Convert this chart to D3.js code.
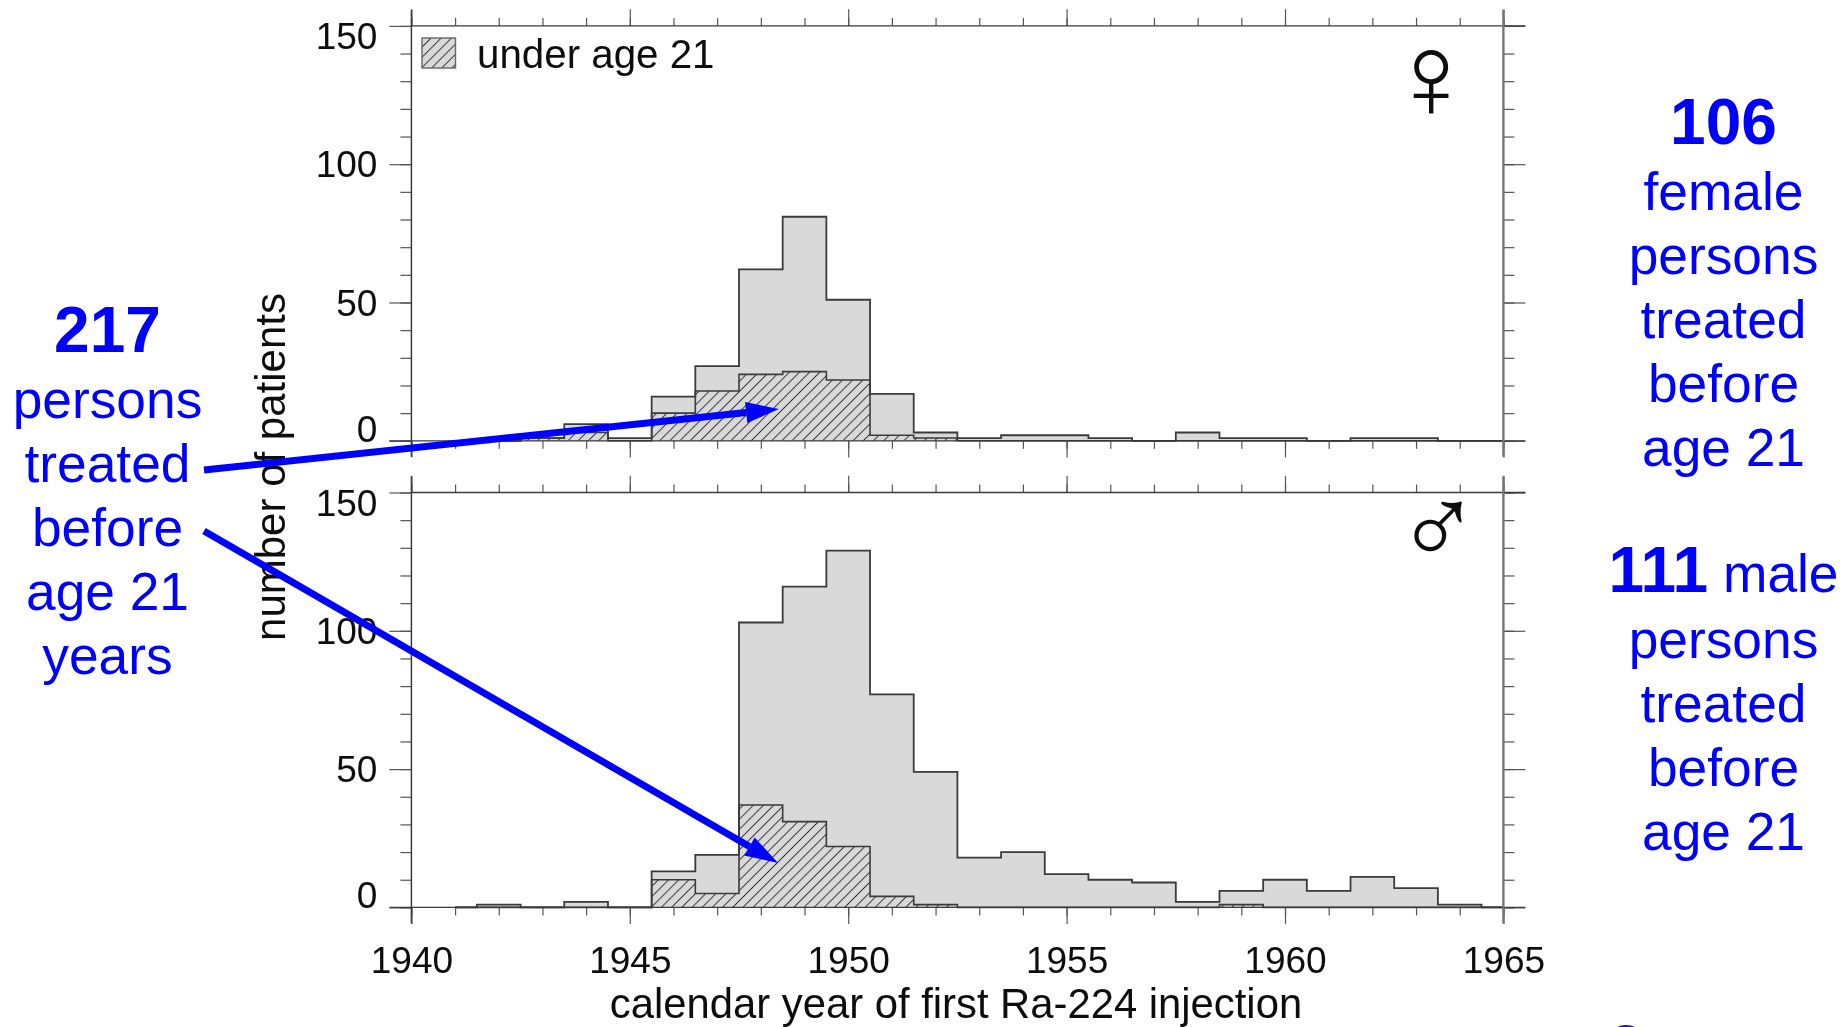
<!DOCTYPE html>
<html><head><meta charset="utf-8">
<script src="https://cdn.jsdelivr.net/npm/d3@7"></script>
<style>
html,body{margin:0;padding:0;background:#fff;overflow:hidden}
svg{display:block}
text{font-family:"Liberation Sans",Arial,sans-serif}
</style></head><body>
<svg id="c" width="1843" height="1027"></svg>
<script>
const years = d3.range(1941, 1966);
//                      41 42 43 44 45 46 47 48 49 50 51 52 53 54 55 56 57 58 59 60 61 62 63 64 65
const femaleTotal   = [ 0, 0, 1, 6, 1,16,27,62,81,51,17, 3, 1, 2, 2, 1, 0, 3, 1, 1, 0, 1, 1, 0, 0];
const femaleUnder21 = [ 0, 0, 1, 3, 0,10,18,24,25,22, 2, 1, 0, 0, 0, 0, 0, 0, 0, 0, 0, 0, 0, 0, 0];
const maleTotal     = [ 0, 1, 0, 2, 0,13,19,103,116,129,77,49,18,20,12,10, 9, 2, 6,10, 6,11, 7, 1, 0];
const maleUnder21   = [ 0, 0, 0, 0, 0,10, 5,37,31,22, 4, 1, 0, 0, 0, 0, 0, 0, 1, 0, 0, 0, 0, 0, 0];
const xMajor = [1940,1945,1950,1955,1960,1965];
const xMinor = d3.range(1940,1966);
const yMajor = [0,50,100,150];
const yMinor = d3.range(0,151,10);
const xLabel = "calendar year of first Ra-224 injection";
const yLabel = "number of patients";
const legendLabel = "under age 21";
const leftNote = ["persons","treated","before","age 21","years"];
const femaleNote = ["female","persons","treated","before","age 21"];
const maleNote = ["persons","treated","before","age 21"];

const svg = d3.select("#c");
const defs = svg.append("defs");
defs.append("filter").attr("id","soft").attr("filterUnits","userSpaceOnUse")
  .attr("x",0).attr("y",0).attr("width",1843).attr("height",1027)
  .append("feGaussianBlur").attr("stdDeviation",0.45);
const pat = defs.append("pattern").attr("id","hatch").attr("patternUnits","userSpaceOnUse")
  .attr("width",7.2).attr("height",7.2).attr("patternTransform","rotate(45)");
pat.append("rect").attr("width",7.2).attr("height",7.2).attr("fill","#d9d9d9");
pat.append("line").attr("x1",0).attr("x2",0).attr("y1",0).attr("y2",7.2).attr("stroke","#333").attr("stroke-width",1.9);

const x = d3.scaleLinear().domain([1940,1965]).range([411.4,1503.4]);
const clip = defs.append("clipPath").attr("id","plotclip");
clip.append("rect").attr("x",x(1941)).attr("y",0).attr("width",x(1965)-x(1941)).attr("height",1027);
const chart = svg.append("g").attr("filter","url(#soft)");
const INK="#3a3a3a";

function panel(top,bottom,total,under,showX){
  const y = d3.scaleLinear().domain([0,150]).range([bottom,top]);
  const g = chart.append("g");
  const steps = vals => years.flatMap((yr,i)=>[[yr-.5,vals[i]],[yr+.5,vals[i]]]);
  const area = d3.area().x(d=>x(d[0])).y0(y(0)).y1(d=>y(d[1]));
  const line = d3.line().x(d=>x(d[0])).y(d=>y(d[1]));
  const h = g.append("g").attr("clip-path","url(#plotclip)");
  h.append("path").attr("d",area(steps(total))).attr("fill","#d9d9d9");
  h.append("path").attr("d",area(steps(under))).attr("fill","url(#hatch)");
  h.append("path").attr("d",line(steps(under))).attr("fill","none").attr("stroke",INK).attr("stroke-width",1.6);
  h.append("path").attr("d",line(steps(total))).attr("fill","none").attr("stroke",INK).attr("stroke-width",1.8);

  const style = s => s.call(a=>a.select(".domain").remove())
    .call(a=>a.selectAll("line").attr("stroke","#555").attr("stroke-width",1.2));
  const add = (gen,tr)=>g.append("g").attr("transform",tr).call(gen).call(style);
  // minor ticks
  add(d3.axisLeft(y).tickValues(yMinor).tickSize(11).tickFormat(""),`translate(${x(1940)},0)`);
  add(d3.axisRight(y).tickValues(yMinor).tickSize(11).tickFormat(""),`translate(${x(1965)},0)`);
  add(d3.axisTop(x).tickValues(xMinor).tickSize(8).tickFormat(""),`translate(0,${top})`);
  add(d3.axisBottom(x).tickValues(xMinor).tickSize(8).tickFormat(""),`translate(0,${bottom})`);
  // major ticks
  const yl = add(d3.axisLeft(y).tickValues(yMajor).tickSize(22).tickPadding(12).tickFormat(d3.format("d")),`translate(${x(1940)},0)`);
  yl.selectAll("text").attr("font-size",37).attr("fill","#111").attr("font-family","Liberation Sans")
    .attr("dy",d=>d===150?"0.62em":"0.34em");
  yl.selectAll("g.tick").filter(d=>d===0).select("text").attr("y",-12);
  add(d3.axisRight(y).tickValues(yMajor).tickSize(22).tickFormat(""),`translate(${x(1965)},0)`);
  add(d3.axisTop(x).tickValues(xMajor).tickSize(16.7).tickFormat(""),`translate(0,${top})`);
  const xb = add(d3.axisBottom(x).tickValues(xMajor).tickSize(16.7).tickFormat(showX?d3.format("d"):""),`translate(0,${bottom})`);
  if(showX) xb.selectAll("text").attr("font-size",37).attr("fill","#111").attr("font-family","Liberation Sans")
      .attr("y",65.5).attr("dy",0);
  // frame
  g.append("line").attr("x1",x(1940)).attr("x2",x(1965)+22).attr("y1",top).attr("y2",top).attr("stroke",INK).attr("stroke-width",1.3);
  g.append("line").attr("x1",x(1940)-22).attr("x2",x(1965)+22).attr("y1",bottom).attr("y2",bottom).attr("stroke",INK).attr("stroke-width",1.3);
  g.append("line").attr("x1",x(1940)).attr("x2",x(1940)).attr("y1",top-16).attr("y2",bottom+16).attr("stroke",INK).attr("stroke-width",1.5);
  g.append("line").attr("x1",x(1965)).attr("x2",x(1965)).attr("y1",top-16).attr("y2",bottom+16).attr("stroke","#777").attr("stroke-width",2.4);
}
panel(25.9,440.8,femaleTotal,femaleUnder21,false);
panel(492.5,907.4,maleTotal,maleUnder21,true);

// legend
chart.append("rect").attr("x",422).attr("y",38).attr("width",33.5).attr("height",30)
  .attr("fill","url(#hatch)").attr("stroke","#666").attr("stroke-width",1.4);
chart.append("text").attr("x",477).attr("y",68).attr("font-size",40.3).attr("fill","#111").text(legendLabel);
// gender glyphs
chart.append("text").attr("x",1431).attr("y",118).attr("text-anchor","middle")
  .style("font-family","'Liberation Sans'").attr("font-size",121).attr("fill","#111").text("♀");
chart.append("text").attr("x",1438).attr("y",565).attr("text-anchor","middle")
  .style("font-family","'Liberation Sans'").attr("font-size",113).attr("fill","#111").text("♂");
// axis titles
chart.append("text").attr("x",956).attr("y",1018).attr("text-anchor","middle")
  .attr("font-size",41.8).attr("fill","#111").text(xLabel);
chart.append("text").attr("transform","translate(285,467) rotate(-90)").attr("text-anchor","middle")
  .attr("font-size",42).attr("fill","#111").text(yLabel);

// blue overlay
const BLUE="#0000ff";
const ov = svg.append("g");
function arrow(x0,y0,x1,y1){
  const a=Math.atan2(y1-y0,x1-x0),L=33,W=10.5;
  const bx=x1-L*Math.cos(a),by=y1-L*Math.sin(a);
  const nx=-Math.sin(a),ny=Math.cos(a);
  ov.append("line").attr("x1",x0).attr("y1",y0).attr("x2",bx).attr("y2",by).attr("stroke",BLUE).attr("stroke-width",7);
  ov.append("path").attr("d",d3.line()([[x1,y1],[bx+nx*W,by+ny*W],[bx-nx*W,by-ny*W]])+"Z").attr("fill",BLUE);
}
arrow(204,470,779,409);
arrow(204,531,778,863);
function txt(cx,base,s,size,bold){
  return ov.append("text").attr("x",cx).attr("y",base).attr("text-anchor","middle")
    .attr("font-size",size).attr("font-weight",bold?"bold":"normal").attr("fill",BLUE).text(s);
}
txt(107.5,352,"217",64,true);
leftNote.forEach((s,i)=>txt(107.5,418+i*64,s,53.3));
txt(1723.5,144,"106",64,true);
femaleNote.forEach((s,i)=>txt(1723.5,209.7+i*64,s,53.3));
const m = txt(1723.5,592,"",53.3);
m.append("tspan").attr("font-weight","bold").attr("font-size",64).text("111");
m.append("tspan").text(" male");
maleNote.forEach((s,i)=>txt(1723.5,658+i*64,s,53.3));
// sliver of a logo cut off by the lower edge
ov.append("ellipse").attr("cx",1626).attr("cy",1036).attr("rx",15).attr("ry",11).attr("fill","#2a1a8f");
</script>
</body></html>
